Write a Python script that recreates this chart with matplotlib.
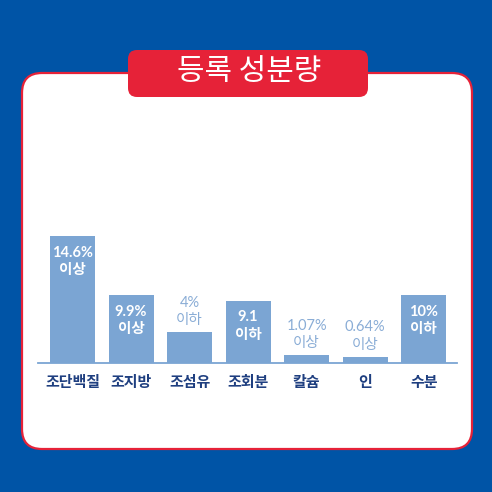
import matplotlib.pyplot as plt
from matplotlib.patches import FancyBboxPatch

plt.rcParams['font.family'] = ['Lato', 'Noto Sans CJK KR', 'DejaVu Sans']

title = '등록 성분량'
categories = ['조단백질', '조지방', '조섬유', '조회분', '칼슘', '인', '수분']
# bar heights as drawn (the picture is not to scale)
heights = [18.5, 9.9, 4.5, 9.05, 1.17, 0.88, 9.9]
value_labels = ['14.6%\n이상', '9.9%\n이상', '4%\n이하', '9.1\n이하',
                '1.07%\n이상', '0.64%\n이상', '10%\n이하']
label_inside = [True, True, False, True, False, False, True]

blue_bg = '#0054A6'
red = '#E62238'
bar_color = '#7BA5D3'
navy = '#1F3F80'
light_text = '#8AADD6'

W = 492
fig = plt.figure(figsize=(W / 100, W / 100), dpi=100)
fig.patch.set_facecolor(blue_bg)

# background layer in pixel coordinates
bg = fig.add_axes([0, 0, 1, 1])
bg.set_xlim(0, W)
bg.set_ylim(W, 0)
bg.axis('off')
bg.add_patch(FancyBboxPatch((22, 73), 450, 376,
                            boxstyle='round,pad=0,rounding_size=20',
                            facecolor='white', edgecolor=red, linewidth=1.6))
bg.add_patch(FancyBboxPatch((128, 50), 240, 47,
                            boxstyle='round,pad=0,rounding_size=9',
                            facecolor=red, edgecolor='none'))
bg.text(249, 72, title, color='white', fontsize=21.5, ha='center', va='center',
        family=['Noto Sans CJK KR'])

# bar chart
ax = fig.add_axes([38 / W, 129 / W, 419 / W, 143 / W])
ax.patch.set_alpha(0)
x = list(range(len(categories)))
ax.bar(x, heights, width=0.77, color=bar_color)
ax.set_xlim(-0.59, 6.57)
ax.set_ylim(0, 143 / 6.85)
for s in ['top', 'right', 'left']:
    ax.spines[s].set_visible(False)
ax.spines['bottom'].set_color(bar_color)
ax.spines['bottom'].set_linewidth(1.3)
ax.set_xticks([])
ax.set_yticks([])

for i, h in enumerate(heights):
    if label_inside[i]:
        ax.annotate(value_labels[i], (i, h), xytext=(0, -18), textcoords='offset points',
                    ha='center', va='center', color='white', fontsize=10.5,
                    fontweight='bold', linespacing=1.3)
    else:
        ax.annotate(value_labels[i], (i, h), xytext=(0, 15), textcoords='offset points',
                    ha='center', va='center', color=light_text, fontsize=10.5,
                    linespacing=1.3)
    ax.annotate(categories[i], (i, 0), xytext=(0, -13.5), textcoords='offset points',
                ha='center', va='center', color=navy, fontsize=10.8,
                fontweight='bold', family=['Noto Sans CJK KR'])

fig.savefig('out.png', dpi=100, facecolor=fig.get_facecolor())
